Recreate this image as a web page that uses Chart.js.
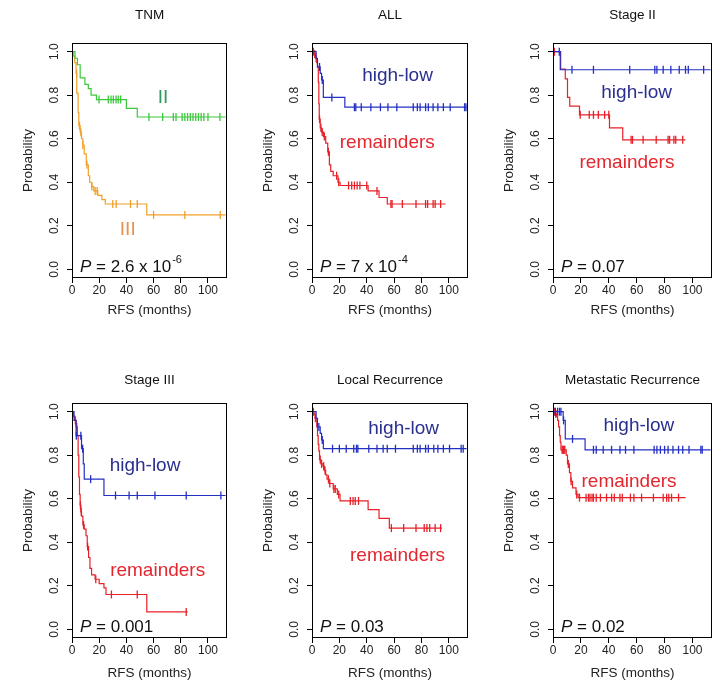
<!DOCTYPE html>
<html><head><meta charset="utf-8">
<script src="https://cdn.jsdelivr.net/npm/chart.js@4.4.0/dist/chart.umd.min.js"></script>
<style>
html,body{margin:0;padding:0;background:#fff;}
#wrap{position:relative;width:723px;height:682px;overflow:hidden;background:#fff;}
canvas{position:absolute;}
</style></head><body><div id="wrap"></div>
<script>
// ---------- tick labels ----------
const xTickValues = [0, 20, 40, 60, 80, 100];
const yTickValues = [0, 0.2, 0.4, 0.6, 0.8, 1.0];

// ---------- Panel 1: TNM ----------
const tnmIITimes = [0, 2.2, 4, 6, 9.5, 12, 14, 18, 40, 48];
const tnmIISurv  = [1, 0.97, 0.94, 0.88, 0.85, 0.83, 0.80, 0.78, 0.74, 0.70];
const tnmIIEnd = 113;
const tnmIICensor = [19.9, 26.7, 28.7, 30.4, 32.4, 34, 35.8, 56.6, 66.7, 74.5, 76.5, 81, 83, 85, 87, 89, 91, 93, 95, 97, 100, 108.8];
const tnmIIITimes = [0, 1, 2, 3, 3.5, 4.5, 5, 6, 7, 8, 9, 10.5, 12, 13, 14.5, 16, 19, 22, 24.5, 55];
const tnmIIISurv  = [1, 0.98, 0.95, 0.90, 0.81, 0.72, 0.66, 0.63, 0.60, 0.57, 0.53, 0.48, 0.43, 0.40, 0.38, 0.36, 0.34, 0.32, 0.30, 0.25];
const tnmIIIEnd = 113;
const tnmIIICensor = [3.4, 5.5, 6.5, 8, 11, 14.6, 17, 18.5, 30, 32.5, 43, 48, 60, 83, 109];

// ---------- Panel 2: ALL ----------
const allHLTimes = [0, 3, 4, 6, 7, 8.3, 24];
const allHLSurv  = [1, 0.97, 0.93, 0.90, 0.87, 0.79, 0.745];
const allHLEnd = 113;
const allHLCensor = [5.5, 7.5, 14.5, 31, 32, 36, 43, 50, 55.5, 62, 74, 77, 79, 83, 85, 88.5, 92, 96, 101, 111.5, 112.5];
const allRemTimes = [0, 1.5, 2.5, 3.5, 4, 4.6, 5, 5.3, 6, 7, 8.5, 10, 11.5, 12.7, 13.7, 15.5, 19, 20.5, 41, 49, 55];
const allRemSurv  = [1, 0.99, 0.97, 0.95, 0.93, 0.86, 0.76, 0.69, 0.65, 0.63, 0.61, 0.58, 0.54, 0.48, 0.45, 0.43, 0.40, 0.385, 0.36, 0.33, 0.30];
const allRemEnd = 97.5;
const allRemCensor = [1, 2, 3, 5.5, 6.5, 7.5, 9, 12, 18, 19.5, 26.7, 29, 31, 33, 35, 40, 47.5, 57.7, 58.5, 66, 76, 83, 84.5, 88.5, 90, 94];

// ---------- Panel 3: Stage II ----------
const s2HLTimes = [0, 5.2];
const s2HLSurv  = [1, 0.917];
const s2HLEnd = 113;
const s2HLCensor = [4.5, 13.6, 29, 55, 73, 74.5, 79, 84.5, 90.5, 95, 97, 108];
const s2RemTimes = [0, 5.5, 8.8, 10.4, 12, 19, 40.5, 50];
const s2RemSurv  = [1, 0.92, 0.875, 0.79, 0.75, 0.71, 0.65, 0.595];
const s2RemEnd = 95;
const s2RemCensor = [1, 19.5, 26, 29, 32.5, 37, 40, 56, 57, 64.6, 74, 82.5, 83.6, 86.7, 88, 93];

// ---------- Panel 4: Stage III ----------
const s3HLTimes = [0, 1.5, 3, 7, 8.3, 9, 23.5];
const s3HLSurv  = [1, 0.96, 0.89, 0.83, 0.76, 0.69, 0.615];
const s3HLEnd = 113;
const s3HLCensor = [3.2, 6.5, 7.8, 13.7, 32, 42, 48, 61, 84, 109.5];
const s3RemTimes = [0, 1, 2, 3, 4, 4.5, 5, 5.5, 6, 6.5, 7, 8, 9, 10.3, 11.2, 12.2, 13.2, 14.4, 17, 20, 23.5, 25, 55];
const s3RemSurv  = [1, 0.98, 0.96, 0.93, 0.89, 0.80, 0.70, 0.62, 0.57, 0.54, 0.52, 0.48, 0.46, 0.43, 0.38, 0.33, 0.28, 0.25, 0.23, 0.21, 0.19, 0.16, 0.08];
const s3RemEnd = 85;
const s3RemCensor = [2.5, 3.5, 6.2, 6.8, 8.5, 11.5, 17.5, 29, 48, 84];

// ---------- Panel 5: Local Recurrence ----------
const lrHLTimes = [0, 3, 4, 6, 7, 8.3];
const lrHLSurv  = [1, 0.97, 0.93, 0.90, 0.87, 0.83];
const lrHLEnd = 113;
const lrHLCensor = [5, 7.5, 15, 20, 25, 30.5, 32.5, 33.5, 41.5, 47.5, 52, 55, 61, 74, 77, 79, 83, 85, 89, 92, 96, 100.5, 109, 110.5];
const lrRemTimes = [0, 1.5, 2.2, 3.5, 4, 4.5, 5, 5.5, 6.5, 8, 9, 10, 11, 12.5, 15.5, 18.5, 20.5, 41, 49, 56.5];
const lrRemSurv  = [1, 0.99, 0.97, 0.93, 0.89, 0.85, 0.82, 0.78, 0.76, 0.75, 0.73, 0.71, 0.69, 0.67, 0.645, 0.62, 0.59, 0.55, 0.51, 0.465];
const lrRemEnd = 95;
const lrRemCensor = [1, 2.5, 6, 7, 8.5, 9.5, 12, 13, 16, 17, 19.5, 28, 30, 31.6, 34, 58, 67, 76, 82, 84, 86, 90, 94];

// ---------- Panel 6: Metastatic Recurrence ----------
const mrHLTimes = [0, 7.3, 8.8, 23];
const mrHLSurv  = [1, 0.96, 0.875, 0.825];
const mrHLEnd = 113;
const mrHLCensor = [1.7, 3.3, 4.7, 5.7, 7.6, 14, 29, 31, 36, 42, 48, 52, 58, 72.5, 74.5, 77, 80, 82.5, 86, 90, 93, 97.5, 106, 107];
const mrRemTimes = [0, 1.7, 2.4, 3.3, 4, 4.7, 5.2, 5.7, 9.5, 10.4, 11.8, 12.8, 14, 16.5, 18];
const mrRemSurv  = [1, 0.99, 0.98, 0.96, 0.93, 0.89, 0.86, 0.825, 0.80, 0.76, 0.72, 0.68, 0.65, 0.62, 0.605];
const mrRemEnd = 95;
const mrRemCensor = [1, 2, 6.5, 7, 7.5, 8, 8.5, 11, 13, 17, 19, 23.7, 25.4, 26.5, 28, 29, 31, 34, 38.4, 42, 44, 48, 49.7, 55.5, 58, 63.5, 72, 79, 81.5, 83, 85, 90];

// ---------- styling ----------
const FONT = '"Liberation Sans", Arial, Helvetica, sans-serif';
const C_BLUE = '#2430c4', C_RED = '#e82028', C_GREEN = '#3cc83c', C_ORANGE = '#f0a028';
const T_BLUE = '#2b2f8f', T_RED = '#e4262e', T_GREEN = '#2e9a5e', T_ORANGE = '#e8904c';
Chart.defaults.font.family = FONT;

function stepAt(times, surv, t) { let v = surv[0]; for (let i = 0; i < times.length; i++) { if (times[i] <= t) v = surv[i]; } return v; }
function curvePts(times, surv, end) { const d = times.map((t, i) => ({x: t, y: surv[i]})); d.push({x: end, y: surv[surv.length - 1]}); return d; }
function censorPts(times, surv, cens) { return cens.map(t => ({x: t, y: stepAt(times, surv, t)})); }
function group(times, surv, end, cens, color) {
  return [
    {data: curvePts(times, surv, end), showLine: true, stepped: 'before', borderColor: color, borderWidth: 1.2, pointRadius: 0, fill: false},
    {data: censorPts(times, surv, cens), showLine: false, pointStyle: 'line', rotation: 90, pointRadius: 4, borderColor: color, borderWidth: 1.3, backgroundColor: color}
  ];
}

const panels = [
  {box: [72, 43, 155, 235], row: 0, title: 'TNM',
   groups: [group(tnmIITimes, tnmIISurv, tnmIIEnd, tnmIICensor, C_GREEN), group(tnmIIITimes, tnmIIISurv, tnmIIIEnd, tnmIIICensor, C_ORANGE)],
   labels: [{text: 'II', x: 67, y: 0.79, color: T_GREEN}, {text: 'III', x: 41, y: 0.18, color: T_ORANGE}],
   p: ['2.6 x 10', '-6']},
  {box: [312, 43, 156, 235], row: 0, title: 'ALL',
   groups: [group(allHLTimes, allHLSurv, allHLEnd, allHLCensor, C_BLUE), group(allRemTimes, allRemSurv, allRemEnd, allRemCensor, C_RED)],
   labels: [{text: 'high-low', x: 62.5, y: 0.89, color: T_BLUE}, {text: 'remainders', x: 55, y: 0.58, color: T_RED}],
   p: ['7 x 10', '-4']},
  {box: [553, 43, 159, 235], row: 0, title: 'Stage II',
   groups: [group(s2HLTimes, s2HLSurv, s2HLEnd, s2HLCensor, C_BLUE), group(s2RemTimes, s2RemSurv, s2RemEnd, s2RemCensor, C_RED)],
   labels: [{text: 'high-low', x: 60, y: 0.81, color: T_BLUE}, {text: 'remainders', x: 53, y: 0.49, color: T_RED}],
   p: ['0.07', '']},
  {box: [72, 403, 155, 235], row: 1, title: 'Stage III',
   groups: [group(s3HLTimes, s3HLSurv, s3HLEnd, s3HLCensor, C_BLUE), group(s3RemTimes, s3RemSurv, s3RemEnd, s3RemCensor, C_RED)],
   labels: [{text: 'high-low', x: 53.7, y: 0.75, color: T_BLUE}, {text: 'remainders', x: 63, y: 0.27, color: T_RED}],
   p: ['0.001', '']},
  {box: [312, 403, 156, 235], row: 1, title: 'Local Recurrence',
   groups: [group(lrHLTimes, lrHLSurv, lrHLEnd, lrHLCensor, C_BLUE), group(lrRemTimes, lrRemSurv, lrRemEnd, lrRemCensor, C_RED)],
   labels: [{text: 'high-low', x: 67, y: 0.92, color: T_BLUE}, {text: 'remainders', x: 62.5, y: 0.34, color: T_RED}],
   p: ['0.03', '']},
  {box: [553, 403, 159, 235], row: 1, title: 'Metastatic Recurrence',
   groups: [group(mrHLTimes, mrHLSurv, mrHLEnd, mrHLCensor, C_BLUE), group(mrRemTimes, mrRemSurv, mrRemEnd, mrRemCensor, C_RED)],
   labels: [{text: 'high-low', x: 61.6, y: 0.935, color: T_BLUE}, {text: 'remainders', x: 54.5, y: 0.68, color: T_RED}],
   p: ['0.02', '']}
];

const AXW = 62, TOPPAD = 43, AXH = 45, RIGHTPAD = 10;

const panelPlugin = {
  id: 'panelDeco',
  afterDraw(chart, args, opts) {
    const ctx = chart.ctx, ca = chart.chartArea, xs = chart.scales.x, ys = chart.scales.y;
    ctx.save();
    ctx.strokeStyle = '#000'; ctx.lineWidth = 1;
    ctx.strokeRect(Math.round(ca.left) + 0.5, Math.round(ca.top) + 0.5, Math.round(ca.right - ca.left) - 1, Math.round(ca.bottom - ca.top) - 1);
    ctx.textBaseline = 'middle';
    ctx.textAlign = 'center';
    ctx.fillStyle = '#111';
    ctx.font = '13.5px ' + FONT;
    ctx.fillText(opts.title, (ca.left + ca.right) / 2, ca.top - opts.titleGap);
    opts.labels.forEach(l => {
      ctx.fillStyle = l.color; ctx.font = '19px ' + FONT;
      ctx.fillText(l.text, xs.getPixelForValue(l.x), ys.getPixelForValue(l.y));
    });
    // P value
    ctx.textAlign = 'left';
    ctx.fillStyle = '#111';
    let px = ca.left + 8, py = ys.getPixelForValue(0.01);
    ctx.font = 'italic 17px ' + FONT; ctx.fillText('P', px, py); px += ctx.measureText('P').width;
    ctx.font = '17px ' + FONT; const main = ' = ' + opts.p[0]; ctx.fillText(main, px, py); px += ctx.measureText(main).width;
    if (opts.p[1]) { ctx.font = '11px ' + FONT; ctx.fillText(opts.p[1], px + 1, py - 7); }
    ctx.restore();
  }
};

const wrap = document.getElementById('wrap');
panels.forEach(pn => {
  const [bl, bt, bw, bh] = pn.box;
  const cv = document.createElement('canvas');
  const W = bw + AXW + RIGHTPAD, H = TOPPAD + bh + AXH;
  cv.width = W; cv.height = H;
  cv.style.left = (bl - AXW) + 'px'; cv.style.top = (bt - TOPPAD) + 'px';
  cv.style.width = W + 'px'; cv.style.height = H + 'px';
  wrap.appendChild(cv);
  const datasets = [].concat(...pn.groups);
  new Chart(cv, {
    type: 'scatter',
    data: {datasets},
    plugins: [panelPlugin],
    options: {
      responsive: false, animation: false, devicePixelRatio: 1,
      layout: {padding: {top: TOPPAD, left: 0, right: RIGHTPAD, bottom: 0}},
      plugins: {legend: {display: false}, tooltip: {enabled: false},
        panelDeco: {title: pn.title, titleGap: pn.row === 0 ? 28 : 23, labels: pn.labels, p: pn.p}},
      scales: {
        x: {type: 'linear', min: 0, max: 114,
          afterBuildTicks: s => { s.ticks = xTickValues.map(v => ({value: v})); },
          afterFit: s => { s.height = AXH; },
          border: {display: false},
          grid: {display: true, drawOnChartArea: false, drawTicks: true, tickLength: 5, color: '#000'},
          ticks: {font: {size: 12}, color: '#222', padding: 0, maxRotation: 0, minRotation: 0},
          title: {display: true, text: 'RFS (months)', color: '#222', font: {size: 13.5}, padding: {top: 0, bottom: pn.row === 0 ? 5 : 2}}},
        y: {type: 'linear', min: -0.04, max: 1.04,
          afterBuildTicks: s => { s.ticks = yTickValues.map(v => ({value: v})); },
          afterFit: s => { s.width = AXW; },
          border: {display: false},
          grid: {display: true, drawOnChartArea: false, drawTicks: true, tickLength: 5, color: '#000'},
          ticks: {font: {size: 12}, color: '#222', padding: 3.5, minRotation: 90, maxRotation: 90, crossAlign: 'center',
            callback: v => Number(v).toFixed(1)},
          title: {display: true, text: 'Probability', color: '#222', font: {size: 13.5}, padding: {top: 10, bottom: 0}}}
      }
    }
  });
});
</script>
</body></html>
